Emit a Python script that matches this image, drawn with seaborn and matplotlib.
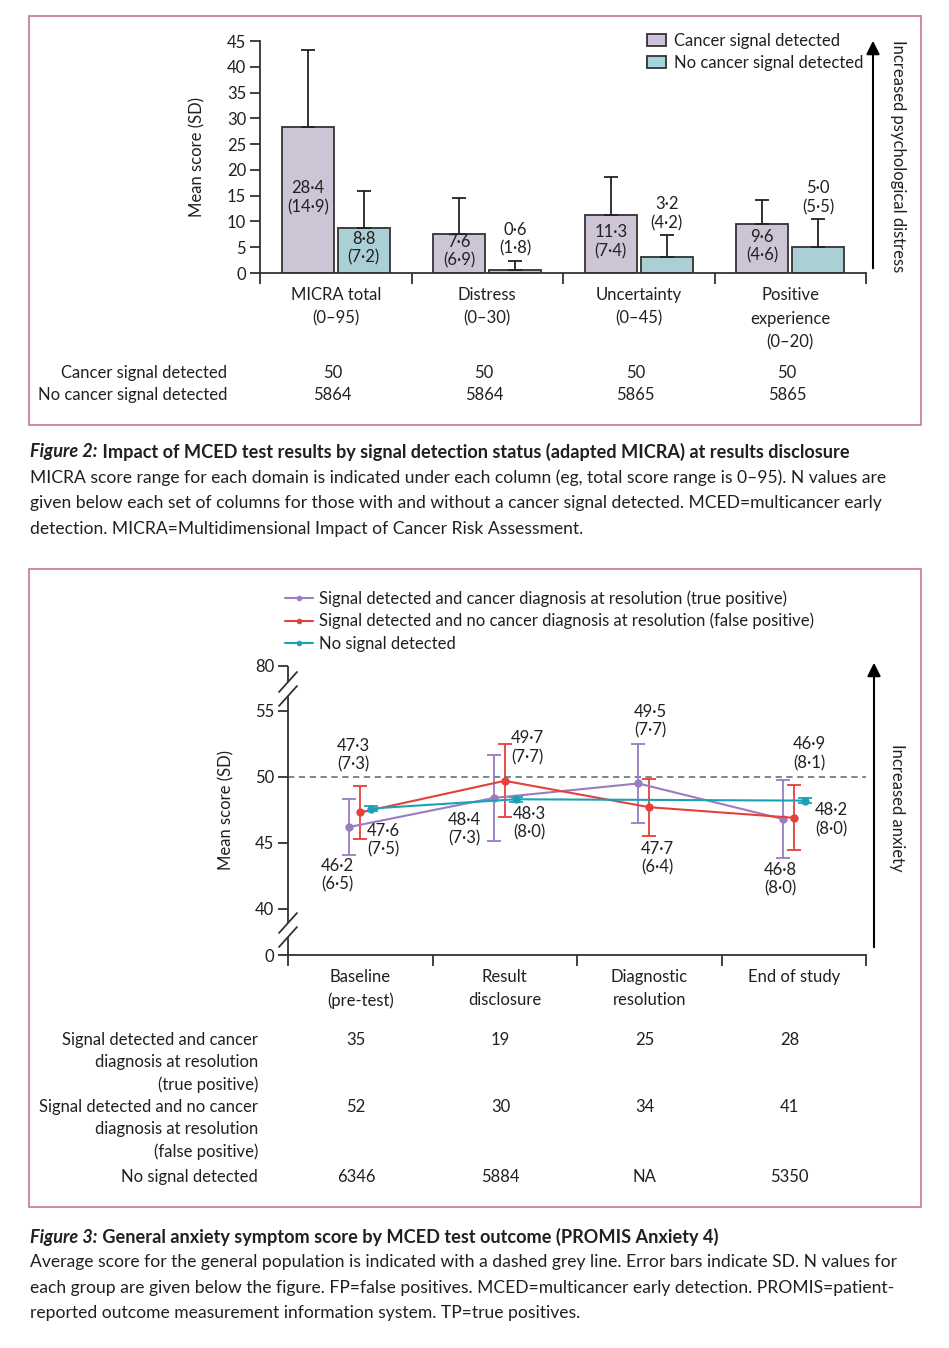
import numpy as np
import pandas as pd
import matplotlib
matplotlib.use('Agg')
import matplotlib.pyplot as plt
import seaborn as sns
from matplotlib.patches import Rectangle, Patch
from matplotlib.lines import Line2D
from matplotlib.transforms import blended_transform_factory

# Figure 2 - adapted MICRA by signal detection status
domains = ['MICRA total\n(0–95)', 'Distress\n(0–30)', 'Uncertainty\n(0–45)', 'Positive\nexperience\n(0–20)']
groups2 = ['Cancer signal detected', 'No cancer signal detected']
detected_mean = [28.4, 7.6, 11.3, 9.6]
detected_sd = [14.9, 6.9, 7.4, 4.6]
detected_n = [50, 50, 50, 50]
not_detected_mean = [8.8, 0.6, 3.2, 5.0]
not_detected_sd = [7.2, 1.8, 4.2, 5.5]
not_detected_n = [5864, 5864, 5865, 5865]

# Figure 3 - PROMIS Anxiety 4 by test outcome
timepoints = ['Baseline\n(pre-test)', 'Result\ndisclosure', 'Diagnostic\nresolution', 'End of study']
groups3 = ['Signal detected and cancer diagnosis at resolution (true positive)',
           'Signal detected and no cancer diagnosis at resolution (false positive)',
           'No signal detected']
table3_labels = ['Signal detected and cancer\ndiagnosis at resolution\n(true positive)',
                 'Signal detected and no cancer\ndiagnosis at resolution\n(false positive)',
                 'No signal detected']
tp_mean = [46.2, 48.4, 49.5, 46.8]
tp_sd = [6.5, 7.3, 7.7, 8.0]
tp_n = [35, 19, 25, 28]
fp_mean = [47.3, 49.7, 47.7, 46.9]
fp_sd = [7.3, 7.7, 6.4, 8.1]
fp_n = [52, 30, 34, 41]
ns_mean = [47.6, 48.3, np.nan, 48.2]
ns_sd = [7.5, 8.0, np.nan, 8.0]
ns_n = [6346, 5884, np.nan, 5350]
population_mean = 50

W, H = 949, 1348
TXT = '#231f20'
SPINE = '#333333'
PINK = '#c98393'
purple_bar, teal_bar = '#cdc1d9', '#a3d5dc'
line_cols = ['#9a7cc0', '#e5403a', '#1aa2b4']

sns.set_theme(style='ticks')
plt.rcParams['font.family'] = ['Lato', 'DejaVu Sans']
plt.rcParams['text.color'] = TXT
plt.rcParams['axes.edgecolor'] = SPINE
plt.rcParams['xtick.color'] = SPINE
plt.rcParams['ytick.color'] = SPINE
plt.rcParams['xtick.labelcolor'] = TXT
plt.rcParams['ytick.labelcolor'] = TXT
FS = 12


def box(x0, y0, x1, y1):
    return [x0 / W, 1 - y1 / H, (x1 - x0) / W, (y1 - y0) / H]


def fp(x, y):
    return (x / W, 1 - y / H)


def dot(v):
    return f'{v:.1f}'.replace('.', '·')


fig = plt.figure(figsize=(W / 100, H / 100), dpi=100)

# frames around each figure panel
for y0, y1 in [(16, 425), (569, 1207)]:
    fig.add_artist(Rectangle(fp(28.5, y1), 892 / W, (y1 - y0) / H, transform=fig.transFigure,
                             fill=False, edgecolor=PINK, lw=1.3))

# ---------------- top panel: bars ----------------
ax1 = fig.add_axes(box(260, 41, 866, 273))
df2 = pd.DataFrame({
    'domain': domains * 2,
    'group': [groups2[0]] * 4 + [groups2[1]] * 4,
    'mean': detected_mean + not_detected_mean,
})
sns.barplot(data=df2, x='domain', y='mean', hue='group', palette=[purple_bar, teal_bar],
            width=0.74, gap=0.08, edgecolor=SPINE, linewidth=1.3, ax=ax1, legend=False)

for cont, means, sds in zip(ax1.containers, [detected_mean, not_detected_mean],
                            [detected_sd, not_detected_sd]):
    xs = [b.get_x() + b.get_width() / 2 for b in cont]
    ax1.errorbar(xs, means, yerr=[np.zeros(len(means)), sds], fmt='none', ecolor='#222222',
                 elinewidth=1.3, capsize=5, capthick=1.3, zorder=1)
    for x, m, s in zip(xs, means, sds):
        y = m / 2 + 0.4 if m > 6 else m + s + 4.1
        ax1.text(x, y, f'{dot(m)}\n({dot(s)})', ha='center', va='center', fontsize=FS,
                 linespacing=1.2)

ax1.set_xlim(-0.5, 3.5)
ax1.set_ylim(0, 45)
ax1.set_yticks(np.arange(0, 46, 5))
ax1.set_xlabel('')
ax1.set_ylabel('')
ax1.set_xticks(np.arange(-0.5, 4, 1), minor=True)
ax1.tick_params(axis='x', which='major', length=0, pad=10, labelsize=FS)
ax1.tick_params(axis='x', which='minor', length=8, width=1.3)
ax1.tick_params(axis='y', length=7, width=1.3, labelsize=FS, pad=3)
for lab in ax1.get_xticklabels():
    lab.set_linespacing(1.6)
sns.despine(ax=ax1)
for s in ['left', 'bottom']:
    ax1.spines[s].set_linewidth(1.3)

ax1.legend(handles=[Patch(facecolor=purple_bar, edgecolor=SPINE, lw=1.3, label=groups2[0]),
                    Patch(facecolor=teal_bar, edgecolor=SPINE, lw=1.3, label=groups2[1])],
           loc='upper left', bbox_to_anchor=fp(647, 33), bbox_transform=fig.transFigure,
           frameon=False, fontsize=FS, handlelength=1.15, handleheight=0.75, handletextpad=0.45,
           labelspacing=0.35, borderpad=0, borderaxespad=0)

fig.text(*fp(197, 157), 'Mean score (SD)', rotation=90, ha='center', va='center', fontsize=FS)
ax1.annotate('', xy=fp(873, 38), xytext=fp(873, 271), xycoords='figure fraction',
             arrowprops=dict(arrowstyle='-|>', color='black', lw=1.5, mutation_scale=20))
fig.text(*fp(898, 156), 'Increased psychological distress', rotation=270, ha='center',
         va='center', fontsize=FS)

tr1 = blended_transform_factory(ax1.transData, fig.transFigure)
for lab, ns, yy in zip(groups2, [detected_n, not_detected_n], [373, 395]):
    fig.text(*fp(227, yy), lab, ha='right', va='center', fontsize=FS)
    for i, n in enumerate(ns):
        ax1.text(i - 0.02, 1 - yy / H, str(n), transform=tr1, ha='center', va='center', fontsize=FS)

# ---------------- bottom panel: lines ----------------
ax2 = fig.add_axes(box(288, 666, 866, 955))
y_lo, y_hi = 36.5, 58.4
dodge = [-0.076, 0.0, 0.076]
rows = []
for g, (gname, ms, sds, ns) in enumerate(zip(groups3, [tp_mean, fp_mean, ns_mean],
                                             [tp_sd, fp_sd, ns_sd], [tp_n, fp_n, ns_n])):
    for i in range(len(timepoints)):
        rows.append({'group': gname, 'x': i + dodge[g], 'mean': ms[i], 'sd': sds[i], 'n': ns[i]})
df3 = pd.DataFrame(rows)
df3['ci'] = 1.96 * df3['sd'] / np.sqrt(df3['n'])
df3_ok = df3.dropna()

ax2.axhline(population_mean, color='#6d7d86', ls=(0, (3.5, 2.5)), lw=1.3, zorder=0)
for gname, col in zip(groups3, line_cols):
    d = df3_ok[df3_ok['group'] == gname]
    ax2.errorbar(d['x'], d['mean'], yerr=d['ci'], fmt='none', ecolor=col, elinewidth=1.3,
                 capsize=5, capthick=1.3, zorder=2)
sns.lineplot(data=df3_ok, x='x', y='mean', hue='group', palette=line_cols, hue_order=groups3,
             marker='o', markersize=6, markeredgewidth=0, linewidth=1.5, errorbar=None,
             legend=False, ax=ax2, zorder=3)

# label offsets in pixels (right, down) from each point
label_offsets = {
    groups3[0]: [(-12, 48), (-29, 31), (12, -62), (-2, 60)],
    groups3[1]: [(-7, -57), (23, -33), (8, 51), (16, -64)],
    groups3[2]: [(12, 32), (14, 24), None, (27, 19)],
}
for _, r in df3_ok.iterrows():
    i = int(round(r['x']))
    dx, dy = label_offsets[r['group']][i]
    ax2.annotate(f"{dot(r['mean'])}\n({dot(r['sd'])})", xy=(r['x'], r['mean']),
                 xytext=(dx, -dy), textcoords='offset pixels', ha='center', va='center',
                 fontsize=FS, linespacing=1.2)

ax2.set_xlim(-0.5, 3.5)
ax2.set_ylim(y_lo, y_hi)
ax2.set_yticks([y_lo, 40, 45, 50, 55, y_hi], ['0', '40', '45', '50', '55', '80'])
ax2.set_xticks(range(len(timepoints)), timepoints)
ax2.set_xlabel('')
ax2.set_ylabel('')
ax2.set_xticks(np.arange(-0.5, 4, 1), minor=True)
ax2.tick_params(axis='x', which='major', length=0, pad=10, labelsize=FS)
ax2.tick_params(axis='x', which='minor', length=8, width=1.3)
ax2.tick_params(axis='y', length=7, width=1.3, labelsize=FS, pad=3)
for lab in ax2.get_xticklabels():
    lab.set_linespacing(1.55)
sns.despine(ax=ax2)
ax2.spines['bottom'].set_linewidth(1.3)
ax2.spines['left'].set_visible(False)

# broken y axis drawn by hand in axes coordinates
ah, aw = 289.0, 578.0
gap = 7 / ah
b1, b2 = (955 - 930) / ah, (955 - 689) / ah
seg = [(0, b1 - gap), (b1 + gap, b2 - gap), (b2 + gap, 1)]
for lo, hi in seg:
    ax2.plot([0, 0], [lo, hi], transform=ax2.transAxes, color=SPINE, lw=1.3, clip_on=False,
             solid_capstyle='butt')
for b in [b1, b2]:
    for c in [b - gap, b + gap]:
        ax2.plot([-9 / aw, 9 / aw], [c - 10 / ah, c + 10 / ah], transform=ax2.transAxes,
                 color=SPINE, lw=1.3, clip_on=False)

ax2.legend(handles=[Line2D([], [], color=c, lw=1.5, marker='o', markersize=4, markeredgewidth=0)
                    for c in line_cols],
           labels=groups3, loc='upper left', bbox_to_anchor=fp(285, 590),
           bbox_transform=fig.transFigure, frameon=False, fontsize=FS, handlelength=1.65,
           handletextpad=0.4, labelspacing=0.38, borderpad=0, borderaxespad=0)

fig.text(*fp(226, 810), 'Mean score (SD)', rotation=90, ha='center', va='center', fontsize=FS)
ax2.annotate('', xy=fp(874, 660), xytext=fp(874, 950), xycoords='figure fraction',
             arrowprops=dict(arrowstyle='-|>', color='black', lw=1.5, mutation_scale=20))
fig.text(*fp(897, 808), 'Increased anxiety', rotation=270, ha='center', va='center', fontsize=FS)

tr2 = blended_transform_factory(ax2.transData, fig.transFigure)
for lab, ns, yy in zip(table3_labels, [tp_n, fp_n, ns_n], [1040, 1107, 1177]):
    fig.text(*fp(258, yy - 8), lab, ha='right', va='top', fontsize=FS, linespacing=1.45)
    for i, n in enumerate(ns):
        s = 'NA' if pd.isna(n) else str(int(n))
        ax2.text(i - 0.03, 1 - yy / H, s, transform=tr2, ha='center', va='center', fontsize=FS)

# ---------------- captions ----------------
renderer = fig.canvas.get_renderer()


def caption(y_title, prefix, title, lines, y_lines):
    t = fig.text(*fp(30, y_title), prefix, fontsize=13.1, fontweight='bold', style='italic',
                 va='center', ha='left')
    w = t.get_window_extent(renderer).width
    fig.text((30 + w) / W, 1 - y_title / H, ' ' + title, fontsize=13.1, fontweight='bold',
             va='center', ha='left')
    for ln, yy in zip(lines, y_lines):
        fig.text(*fp(30, yy), ln, fontsize=12.6, va='center', ha='left')


caption(452, 'Figure 2:',
        'Impact of MCED test results by signal detection status (adapted MICRA) at results disclosure',
        ['MICRA score range for each domain is indicated under each column (eg, total score range is 0–95). N values are',
         'given below each set of columns for those with and without a cancer signal detected. MCED=multicancer early',
         'detection. MICRA=Multidimensional Impact of Cancer Risk Assessment.'],
        [478, 503, 529])
caption(1237, 'Figure 3:', 'General anxiety symptom score by MCED test outcome (PROMIS Anxiety 4)',
        ['Average score for the general population is indicated with a dashed grey line. Error bars indicate SD. N values for',
         'each group are given below the figure. FP=false positives. MCED=multicancer early detection. PROMIS=patient-',
         'reported outcome measurement information system. TP=true positives.'],
        [1262, 1288, 1313])

fig.savefig('out.png', dpi=100)
